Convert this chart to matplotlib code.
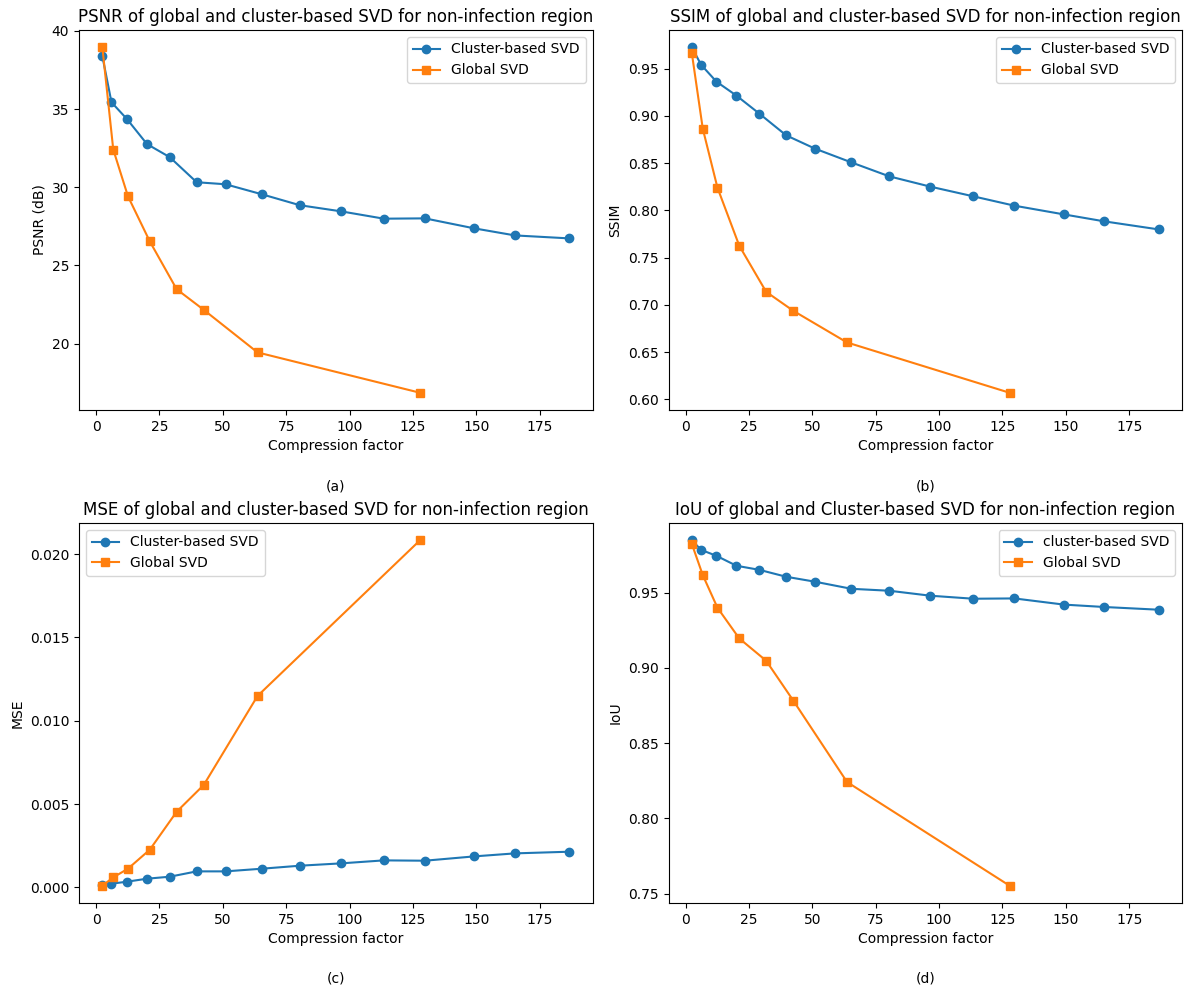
import numpy as np
import matplotlib
matplotlib.use('Agg')
from matplotlib import pyplot as plt

# compression factors
cf_cluster = [2.5, 6.1, 12.2, 20.1, 29.1, 39.7, 51.1, 65.4, 80.4, 96.6, 113.5, 129.7, 149.2, 165.2, 186.6]
cf_global = [2.5, 6.8, 12.6, 21.2, 31.8, 42.5, 63.7, 127.8]

# PSNR (dB)
psnr_cluster = [38.38, 35.43, 34.36, 32.76, 31.92, 30.32, 30.19, 29.55, 28.85, 28.46, 27.99, 28.01, 27.37, 26.92, 26.73]
psnr_global = [38.95, 32.41, 29.42, 26.54, 23.48, 22.16, 19.44, 16.86]

# SSIM
ssim_cluster = [0.9726, 0.9542, 0.9362, 0.9214, 0.9024, 0.8794, 0.8653, 0.8508, 0.8360, 0.8251, 0.8149, 0.8050, 0.7958, 0.7884, 0.7799]
ssim_global = [0.9662, 0.8865, 0.8240, 0.7626, 0.7139, 0.6938, 0.6603, 0.6071]

# MSE
mse_cluster = [0.00014, 0.00022, 0.00034, 0.00052, 0.00064, 0.00096, 0.00096, 0.00112, 0.00130, 0.00144, 0.00162, 0.00160, 0.00186, 0.00204, 0.00214]
mse_global = [0.00010, 0.00060, 0.00112, 0.00226, 0.00454, 0.00615, 0.01149, 0.02084]

# IoU
iou_cluster = [0.9849, 0.9785, 0.9745, 0.9679, 0.9652, 0.9606, 0.9573, 0.9526, 0.9513, 0.9480, 0.9460, 0.9462, 0.9421, 0.9405, 0.9387]
iou_global = [0.9824, 0.9617, 0.9400, 0.9196, 0.9048, 0.8783, 0.8242, 0.7553]

fig, axs = plt.subplots(2, 2, figsize=(11.9, 9.96), dpi=100)
plt.subplots_adjust(left=0.0664, right=0.9933, top=0.9699, bottom=0.0934, wspace=0.148, hspace=0.297)

panels = [
    (axs[0, 0], psnr_cluster, psnr_global, 'PSNR (dB)', 'PSNR of global and cluster-based SVD for non-infection region', 'Cluster-based SVD', 'upper right', '(a)'),
    (axs[0, 1], ssim_cluster, ssim_global, 'SSIM', 'SSIM of global and cluster-based SVD for non-infection region', 'Cluster-based SVD', 'upper right', '(b)'),
    (axs[1, 0], mse_cluster, mse_global, 'MSE', 'MSE of global and cluster-based SVD for non-infection region', 'Cluster-based SVD', 'upper left', '(c)'),
    (axs[1, 1], iou_cluster, iou_global, 'IoU', 'IoU of global and Cluster-based SVD for non-infection region', 'cluster-based SVD', 'upper right', '(d)'),
]

for ax, yc, yg, ylab, title, clab, loc, cap in panels:
    ax.plot(cf_cluster, yc, marker='o', label=clab)
    ax.plot(cf_global, yg, marker='s', label='Global SVD')
    ax.set_xlabel('Compression factor')
    ax.set_ylabel(ylab)
    ax.set_title(title)
    ax.legend(loc=loc)
    ax.text(0.5, -0.2, cap, transform=ax.transAxes, ha='center', va='center')

plt.savefig('out.png')
